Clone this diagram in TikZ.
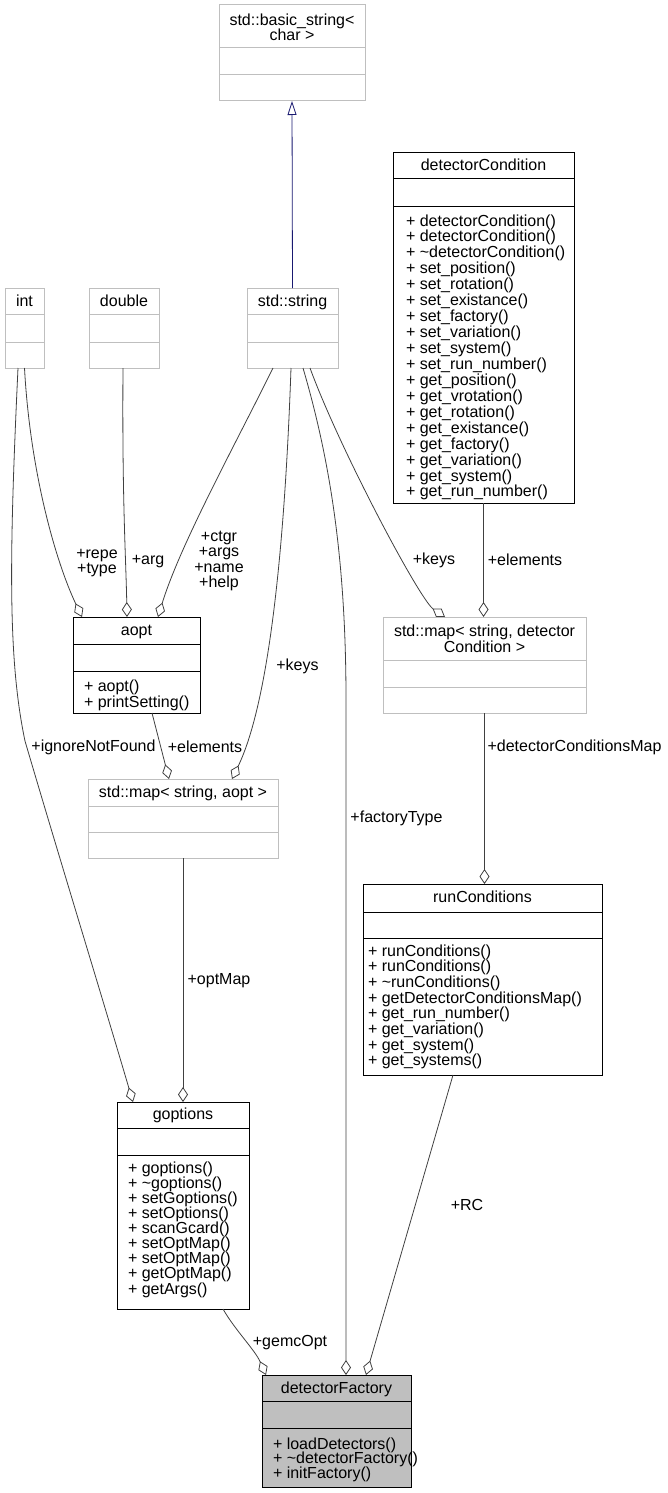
\documentclass[tikz,border=0pt]{standalone}
\usepackage{fontspec}
\setmainfont{Liberation Sans}
\usetikzlibrary{arrows.meta}
\definecolor{edgegray}{HTML}{404040}
\definecolor{boxgray}{HTML}{BFBFBF}
\definecolor{inhblue}{HTML}{191970}
\tikzset{
  every node/.style={font=\fontsize{16}{16}\selectfont, inner sep=0pt, outer sep=0pt},
  graybox/.style={draw=boxgray, fill=white, line width=1pt, rectangle},
  blackbox/.style={draw=black, fill=white, line width=1pt, rectangle},
  factbox/.style={draw=black, fill=boxgray, line width=1pt, rectangle},
  assoc/.style={draw=edgegray, line width=0.8pt, -{Diamond[open, fill=white, length=15pt, width=10pt]}},
  inherit/.style={draw=inhblue, line width=0.8pt, -{Triangle[open, fill=white, length=14pt, width=9pt]}},
  lbl/.style={align=center, font=\fontsize{16}{15.5}\selectfont},
}
% name, style, colour, x1, y1, x2, y2, ya, yb
\newcommand{\umlbox}[9]{%
  \node[#2, minimum width={#6-#4}, minimum height={#7-#5}] (#1) at ({(#4+#6)/2},{(#5+#7)/2}) {};
  \draw[draw=#3, line width=1pt] (#4,#8) -- (#6,#8) (#4,#9) -- (#6,#9);
}
% prefix, x, first baseline, spacing, list
\newcommand{\umlmethods}[5]{%
  \foreach \m [count=\i] in {#5} \node[anchor=base west] (#1-\i) at (#2,{#3+(\i-1)*#4}) {\m};
}
\begin{document}
\begin{tikzpicture}[x=1pt,y=-1pt]
\useasboundingbox (0,0) rectangle (667,1493);

% std::basic_string<char>
\umlbox{bs}{graybox}{boxgray}{219}{5}{365}{101}{48}{75}
\node[anchor=base] (bs-t1) at (292,26) {std::basic\_string<};
\node[anchor=base] (bs-t2) at (292,40.5) {char >};

% int, double, std::string
\umlbox{int}{graybox}{boxgray}{5}{288}{44}{368}{314}{342}
\node[anchor=base] (int-t) at (24.5,306) {int};
\umlbox{dbl}{graybox}{boxgray}{89}{288}{159}{368}{314}{342}
\node[anchor=base] (dbl-t) at (124,306) {double};
\umlbox{str}{graybox}{boxgray}{247}{288}{338}{368}{314}{342}
\node[anchor=base] (str-t) at (292.5,306) {std::string};

% detectorCondition
\umlbox{dc}{blackbox}{black}{393}{152}{574}{503}{178}{206}
\node[anchor=base] (dc-t) at (483.5,170) {detectorCondition};
\umlmethods{dcm}{406}{226}{15.94}{+ detectorCondition(),+ detectorCondition(),+ {\textasciitilde}detectorCondition(),+ set\_position(),+ set\_rotation(),+ set\_existance(),+ set\_factory(),+ set\_variation(),+ set\_system(),+ set\_run\_number(),+ get\_position(),+ get\_vrotation(),+ get\_rotation(),+ get\_existance(),+ get\_factory(),+ get\_variation(),+ get\_system(),+ get\_run\_number()}

% aopt
\umlbox{aopt}{blackbox}{black}{73}{617}{200}{713}{644}{671}
\node[anchor=base] (aopt-t) at (136.5,635) {aopt};
\umlmethods{aoptm}{84}{691}{16}{+ aopt(),+ printSetting()}

% std::map< string, aopt >
\umlbox{mapa}{graybox}{boxgray}{88}{779}{278}{858}{806}{832}
\node[anchor=base] (mapa-t) at (183,797) {std::map< string, aopt >};

% std::map< string, detectorCondition >
\umlbox{mapdc}{graybox}{boxgray}{383}{617}{586}{713}{660}{687}
\node[anchor=base] (mapdc-t1) at (484.5,636) {std::map< string, detector};
\node[anchor=base] (mapdc-t2) at (484.5,652) {Condition >};

% runConditions
\umlbox{rc}{blackbox}{black}{363}{884}{602}{1075}{912}{938}
\node[anchor=base] (rc-t) at (482.5,902) {runConditions};
\umlmethods{rcm}{368}{956}{15.71}{+ runConditions(),+ runConditions(),+ {\textasciitilde}runConditions(),+ getDetectorConditionsMap(),+ get\_run\_number(),+ get\_variation(),+ get\_system(),+ get\_systems()}

% goptions
\umlbox{gopt}{blackbox}{black}{117}{1102}{249}{1309}{1128}{1155}
\node[anchor=base] (gopt-t) at (183,1119) {goptions};
\umlmethods{goptm}{128}{1173}{15.125}{+ goptions(),+ {\textasciitilde}goptions(),+ setGoptions(),+ setOptions(),+ scanGcard(),+ setOptMap(),+ setOptMap(),+ getOptMap(),+ getArgs()}

% detectorFactory
\umlbox{df}{factbox}{black}{262}{1375}{411}{1487}{1401}{1428}
\node[anchor=base] (df-t) at (336.5,1393) {detectorFactory};
\umlmethods{dfm}{273}{1449}{14.8}{+ loadDetectors(),+ {\textasciitilde}detectorFactory(),+ initFactory()}

% edges
\draw[inherit] (str.north) -- (bs.south);
\draw[assoc] (int.south) .. controls (30,470) and (55,560) .. ([xshift=-54.5]aopt.north);
\draw[assoc] ([xshift=-1]dbl.south) .. controls (122,500) and (126,560) .. ([xshift=-9.5]aopt.north);
\draw[assoc] ([xshift=-19.5]str.south) .. controls (235,445) and (180,545) .. ([xshift=21.5]aopt.north);
\draw[assoc] ([xshift=-1.5]str.south) .. controls (285,540) and (270,700) .. ([xshift=49]mapa.north);
\draw[assoc] ([xshift=10.5]str.south) .. controls (330,460) and (346,560) .. (346,700) -- ([xshift=9.5]df.north);
\draw[assoc] ([xshift=17.5]str.south) .. controls (340,450) and (420,600) .. ([xshift=-39.5]mapdc.north);
\draw[assoc] (dc.south) -- (dc.south |- mapdc.north);
\draw[assoc] ([xshift=-6.5]int.south) .. controls (9,560) and (8,660) .. (25,741) .. controls (60,860) and (100,990) .. ([xshift=-50]gopt.north);
\draw[assoc] ([xshift=15.5]aopt.south) -- ([xshift=-14]mapa.north);
\draw[assoc] (mapa.south) -- (gopt.north);
\draw[assoc] (mapdc.south) -- (mapdc.south |- rc.north);
\draw[assoc] ([xshift=-29.5]rc.south) -- ([xshift=29.5]df.north);
\draw[assoc] ([xshift=40]gopt.south) .. controls (235,1330) and (255,1350) .. ([xshift=-70.5]df.north);

% labels
\node[lbl] (l-repe) at (97,563) {+repe\\+type};
\node[lbl] (l-arg) at (148,562) {+arg};
\node[lbl] (l-ctgr) at (219,561) {+ctgr\\+args\\+name\\+help};
\node[lbl] (l-keys1) at (297.5,666) {+keys};
\node[lbl] (l-keys2) at (434,560) {+keys};
\node[lbl] (l-elem1) at (525,560) {+elements};
\node[lbl] (l-ignore) at (93.5,747) {+ignoreNotFound};
\node[lbl] (l-elem2) at (205,747) {+elements};
\node[lbl] (l-fact) at (396.5,818) {+factoryType};
\node[lbl] (l-dcmap) at (574.5,747) {+detectorConditionsMap};
\node[lbl] (l-optmap) at (219,981) {+optMap};
\node[lbl] (l-rc) at (467,1205) {+RC};
\node[lbl] (l-gemc) at (290,1343) {+gemcOpt};
\end{tikzpicture}
\end{document}
